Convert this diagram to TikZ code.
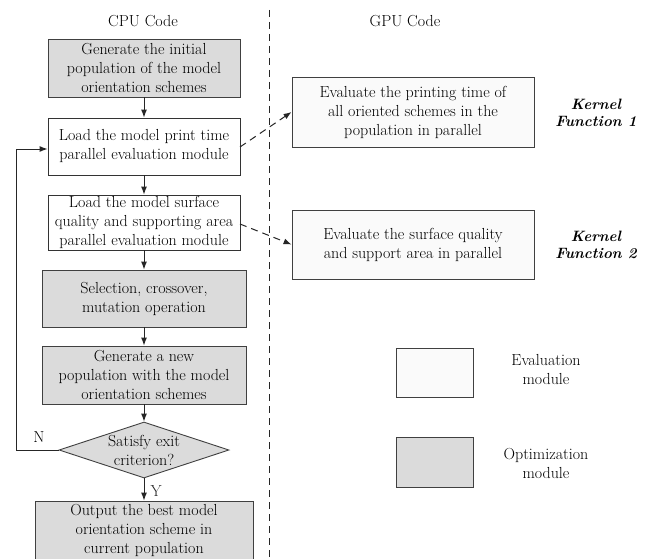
\documentclass[tikz,border=0pt]{standalone}
\usetikzlibrary{arrows.meta,shapes.geometric,patterns}
\begin{document}
\begin{tikzpicture}[x=1pt,y=-1pt,
  txt/.style={font=\fontsize{16}{19}\selectfont, align=center, inner sep=0pt},
  optbox/.style={draw=black!75, line width=0.9pt, fill=gray!28, txt},
  evbox/.style={draw=black!75, line width=0.9pt, fill=gray!4, txt},
  plainbox/.style={draw=black!80, line width=0.9pt, fill=white, txt},
  arr/.style={-{Latex[length=8pt,width=6pt]}, line width=1pt, black!85},
  darr/.style={-{Latex[length=8pt,width=6pt]}, line width=1pt, black!85, dash pattern=on 7pt off 5pt},
  kf/.style={font=\fontsize{15}{17}\selectfont\bfseries\itshape, align=center, inner sep=0pt}
]
\useasboundingbox (0,0) rectangle (661,559);
\fill[white] (0,0) rectangle (661,559);

% titles
\node[txt] (cpu) at (143,21) {CPU Code};
\node[txt] (gpu) at (405,21) {GPU Code};

% divider
\coordinate (dtop) at (269,10);
\coordinate (dbot) at (269,559);
\draw[black!85, line width=0.9pt, dash pattern=on 7pt off 5pt] (dtop) -- (dbot);

% CPU boxes
\node[optbox, minimum width=192pt, minimum height=58pt] (b1) at (144,68)
  {Generate the initial\\population of the model\\orientation schemes};
\node[plainbox, minimum width=192pt, minimum height=57pt] (b2) at (144,146.5)
  {Load the model print time\\parallel evaluation module};
\node[plainbox, minimum width=192pt, minimum height=55pt] (b3) at (144,222.5)
  {Load the model surface\\quality and supporting area\\parallel evaluation module};
\node[optbox, minimum width=204pt, minimum height=57pt] (b4) at (144,298.5)
  {Selection, crossover,\\mutation operation};
\node[optbox, minimum width=204pt, minimum height=58pt] (b5) at (144,375)
  {Generate a new\\population with the model\\orientation schemes};
\node[diamond, draw=black!75, line width=0.9pt, fill=gray!28, aspect=3.05,
  minimum width=170pt, minimum height=56pt, inner sep=0pt, txt] (d) at (144,450)
  {Satisfy exit\\criterion?};
\node[optbox, minimum width=218pt, minimum height=58pt] (b6) at (144,530)
  {Output the best model\\orientation scheme in\\current population};

\draw[arr] (b1) -- (b2);
\draw[arr] (b2) -- (b3);
\draw[arr] (b3) -- (b4);
\draw[arr] (b4) -- (b5);
\draw[arr] (b5) -- (d);
\draw[arr] (d) -- node[txt, right=6pt, pos=0.55] (ylab) {Y} (b6);

\coordinate (lb) at (16,450);
\coordinate (lt) at (16,149);
\draw[arr] (d.west) -- (lb) -- (lt) -- (lt -| b2.west);
\node[txt] (nlab) at (39,437) {N};

% GPU boxes
\node[evbox, minimum width=242pt, minimum height=70pt] (k1) at (413,112)
  {Evaluate the printing time of\\all oriented schemes in the\\population in parallel};
\node[evbox, minimum width=242pt, minimum height=69pt] (k2) at (413,244.5)
  {Evaluate the surface quality\\and support area in parallel};
\node[kf] (kf1) at (596,113) {Kernel\\Function 1};
\node[kf] (kf2) at (596,245) {Kernel\\Function 2};

\coordinate (a1s) at (240,147);
\coordinate (a2s) at (240,224);
\draw[darr] (a1s) -- (k1.west);
\draw[darr] (a2s) -- (k2.west);

% legend
\node[evbox, minimum width=77pt, minimum height=49pt] (le) at (434.5,372.5) {};
\node[optbox, minimum width=77pt, minimum height=50pt] (lo) at (434.5,462) {};
\node[txt] (let) at (546,370) {Evaluation\\module};
\node[txt] (lot) at (546,463) {Optimization\\module};
\end{tikzpicture}
\end{document}
